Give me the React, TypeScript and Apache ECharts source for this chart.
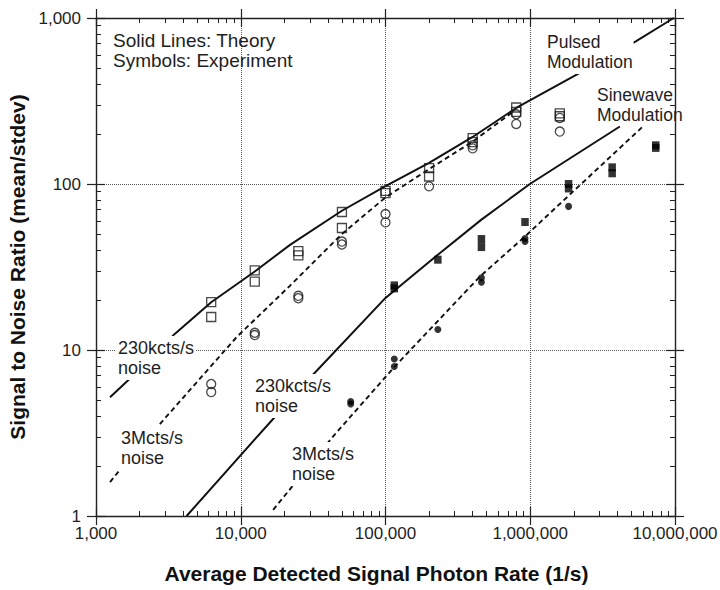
import React, { useEffect, useRef } from "react";
import * as echarts from "echarts";

// ---- axis ticks / labels ----
const xMajorTicks = [1000, 10000, 100000, 1000000, 10000000];
const xTickLabels = ["1,000", "10,000", "100,000", "1,000,000", "10,000,000"];
const xMinorTicks = [
  2000, 3000, 4000, 5000, 6000, 7000, 8000, 9000,
  20000, 30000, 40000, 50000, 60000, 70000, 80000, 90000,
  200000, 300000, 400000, 500000, 600000, 700000, 800000, 900000,
  2000000, 3000000, 4000000, 5000000, 6000000, 7000000, 8000000, 9000000,
];
const yMajorTicks = [1, 10, 100, 1000];
const yTickLabels = ["1", "10", "100", "1,000"];
const yMinorTicks = [2, 3, 4, 5, 6, 7, 8, 9, 20, 30, 40, 50, 60, 70, 80, 90, 200, 300, 400, 500, 600, 700, 800, 900];

// ---- theory curves ----
const pulsedTheory230kX = [1250, 1740, 3500, 6250, 12500, 21900, 50000, 100000, 200000, 400000, 800000, 2200000, 5360000, 9800000];
const pulsedTheory230kY = [5.2, 6.8, 12.5, 19.4, 29.7, 43, 69, 97, 134, 192, 287, 467, 723, 1000];
const pulsedTheory3MX = [1250, 1500, 2700, 9400, 21900, 50000, 100000, 200000, 400000, 750000];
const pulsedTheory3MY = [1.6, 1.95, 3.5, 12, 24.4, 50, 83, 123, 180, 270];
const sineTheory230kX = [4225, 17200, 32500, 100000, 230000, 460000, 994000, 1840000, 4160000];
const sineTheory230kY = [1, 3.95, 7.3, 20.6, 37.5, 61, 100, 141, 222];
const sineTheory3MX = [16750, 43500, 116000, 449000, 920000, 1840000, 6000000];
const sineTheory3MY = [1.09, 3.02, 7.96, 27.7, 48.3, 85, 222];

// ---- experiments ----
const pulsedExp230kX = [6250, 6250, 12500, 12500, 25000, 25000, 50000, 50000, 100000, 100000, 200000, 200000, 400000, 400000, 800000, 800000, 1600000, 1600000];
const pulsedExp230kY = [19.4, 15.8, 30.2, 25.8, 39.4, 37.2, 67.8, 54.3, 91, 88, 124.8, 111, 189, 179, 289, 272, 266, 256];
const pulsedExp3MX = [6250, 6250, 12500, 12500, 25000, 25000, 50000, 50000, 100000, 100000, 200000, 400000, 400000, 800000, 800000, 1600000, 1600000];
const pulsedExp3MY = [6.24, 5.58, 12.7, 12.3, 21.2, 20.5, 45, 43.2, 65.9, 58.7, 96.8, 171, 164, 263, 230, 250, 207];
const sineExp230kX = [115000, 115000, 230000, 460000, 460000, 920000, 1840000, 1840000, 3680000, 3680000, 7360000, 7360000];
const sineExp230kY = [24.5, 23.5, 35, 46.6, 41.7, 59, 100, 94, 126, 116, 171, 165];
const sineExp3MX = [57500, 57500, 115000, 115000, 230000, 460000, 460000, 920000, 920000, 1840000];
const sineExp3MY = [4.9, 4.73, 8.83, 7.96, 13.3, 27.2, 25.6, 47, 45, 73.3];

const zip = (xs: number[], ys: number[]) => xs.map((x, i) => [x, ys[i]]);

const FONT = '"Liberation Sans", Arial, sans-serif';
const INK = "#1e1e1e";
const AXIS = "#222";

function labelFor(ticks: number[], labels: string[]) {
  return (v: number) => {
    const i = ticks.findIndex((t) => Math.abs(Math.log10(t) - Math.log10(v)) < 1e-6);
    return i >= 0 ? labels[i] : "";
  };
}

function makeAxes(dim: "x" | "y") {
  const isX = dim === "x";
  const majors = isX ? xMajorTicks : yMajorTicks;
  const minors = isX ? xMinorTicks : yMinorTicks;
  const min = isX ? 1000 : 1;
  const max = isX ? 10000000 : 1000;
  const sides = isX ? ["bottom", "top"] : ["left", "right"];
  const base = { type: "log", logBase: 10, min, max };
  const axes: any[] = [];
  sides.forEach((pos, si) => {
    const main = si === 0;
    axes.push({
      ...base,
      position: pos,
      axisLine: { show: true, lineStyle: { color: AXIS, width: 1.4 } },
      axisTick: { show: true, inside: false, length: 9, customValues: majors, lineStyle: { color: AXIS, width: 1.2 } },
      axisLabel: main
        ? {
            show: true,
            customValues: majors,
            formatter: labelFor(majors, isX ? xTickLabels : yTickLabels),
            margin: isX ? 9 : 15,
            fontFamily: FONT,
            fontSize: 17,
            color: INK,
          }
        : { show: false },
      splitLine: main
        ? { show: true, lineStyle: { type: "dotted", color: "#555", width: 1 } }
        : { show: false },
      ...(main
        ? isX
          ? {
              name: "Average Detected Signal Photon Rate (1/s)",
              nameLocation: "middle",
              nameGap: 47,
              nameTextStyle: { fontFamily: FONT, fontSize: 21, fontWeight: "bold", color: "#111", padding: [0, 18, 0, 0] },
            }
          : {
              name: "Signal to Noise Ratio (mean/stdev)",
              nameLocation: "middle",
              nameGap: 57,
              nameTextStyle: { fontFamily: FONT, fontSize: 21, fontWeight: "bold", color: "#111" },
            }
        : {}),
    });
    axes.push({
      ...base,
      position: pos,
      axisLine: { show: false },
      axisTick: { show: true, inside: true, length: 9, customValues: majors, lineStyle: { color: AXIS, width: 1.2 } },
      axisLabel: { show: false },
      splitLine: { show: false },
    });
    axes.push({
      ...base,
      position: pos,
      axisLine: { show: false },
      axisTick: { show: true, inside: true, length: 5, customValues: minors, lineStyle: { color: AXIS, width: 1 } },
      axisLabel: { show: false },
      splitLine: { show: false },
    });
  });
  return axes;
}

function noteText(x: number, y: number, text: string, size: number, bg: boolean) {
  return {
    type: "text",
    x: bg ? x - 2 : x,
    y: bg ? y - 2 : y,
    z: 50,
    silent: true,
    style: {
      text,
      font: `${size}px ${FONT}`,
      fill: INK,
      lineHeight: 20,
      ...(bg ? { backgroundColor: "#ffffff", padding: [2, 1, 2, 2] } : {}),
    },
  };
}

export default function App() {
  const ref = useRef<HTMLDivElement>(null);
  useEffect(() => {
    document.body.style.margin = "0";
    if (!ref.current) return;
    const chart = echarts.init(ref.current, undefined, { renderer: "svg" });
    const lineStyleSolid = { color: "#111", width: 2, type: "solid" };
    const lineStyleDash = { color: "#111", width: 1.9, type: [5, 3.5] };
    const openStyle = { color: "rgba(255,255,255,0)", borderColor: "#1a1a1a", borderWidth: 1.3 };
    const filledStyle = { color: "#000", borderWidth: 0 };
    chart.setOption({
      animation: false,
      backgroundColor: "#ffffff",
      grid: { left: 96, right: 45, top: 18, bottom: 74, containLabel: false, outerBoundsMode: "none" },
      xAxis: makeAxes("x"),
      yAxis: makeAxes("y"),
      series: [
        { name: "Pulsed theory 230kcts/s", type: "line", data: zip(pulsedTheory230kX, pulsedTheory230kY), showSymbol: false, symbol: "none", lineStyle: lineStyleSolid, z: 3 },
        { name: "Pulsed theory 3Mcts/s", type: "line", data: zip(pulsedTheory3MX, pulsedTheory3MY), showSymbol: false, symbol: "none", lineStyle: lineStyleDash, z: 3 },
        { name: "Sinewave theory 230kcts/s", type: "line", data: zip(sineTheory230kX, sineTheory230kY), showSymbol: false, symbol: "none", lineStyle: lineStyleSolid, z: 3 },
        { name: "Sinewave theory 3Mcts/s", type: "line", data: zip(sineTheory3MX, sineTheory3MY), showSymbol: false, symbol: "none", lineStyle: lineStyleDash, z: 3 },
        { name: "Pulsed exp 230kcts/s", type: "scatter", data: zip(pulsedExp230kX, pulsedExp230kY), symbol: "rect", symbolSize: 9, itemStyle: openStyle, z: 5 },
        { name: "Pulsed exp 3Mcts/s", type: "scatter", data: zip(pulsedExp3MX, pulsedExp3MY), symbol: "circle", symbolSize: 9, itemStyle: openStyle, z: 5 },
        { name: "Sinewave exp 230kcts/s", type: "scatter", data: zip(sineExp230kX, sineExp230kY), symbol: "rect", symbolSize: [7.5, 8], itemStyle: filledStyle, z: 5 },
        { name: "Sinewave exp 3Mcts/s", type: "scatter", data: zip(sineExp3MX, sineExp3MY), symbol: "circle", symbolSize: 7, itemStyle: filledStyle, z: 5 },
      ],
      graphic: [
        noteText(113, 30, "Solid Lines: Theory\nSymbols: Experiment", 19, false),
        noteText(547, 32, "Pulsed\nModulation", 17.5, true),
        noteText(597, 85, "Sinewave\nModulation", 17.5, false),
        noteText(118, 338, "230kcts/s\nnoise", 18, true),
        noteText(121, 428, "3Mcts/s\nnoise", 18, true),
        noteText(255, 376, "230kcts/s\nnoise", 18, true),
        noteText(292, 444, "3Mcts/s\nnoise", 18, true),
      ],
    });
    return () => chart.dispose();
  }, []);
  return <div ref={ref} style={{ width: 720, height: 590 }} />;
}
